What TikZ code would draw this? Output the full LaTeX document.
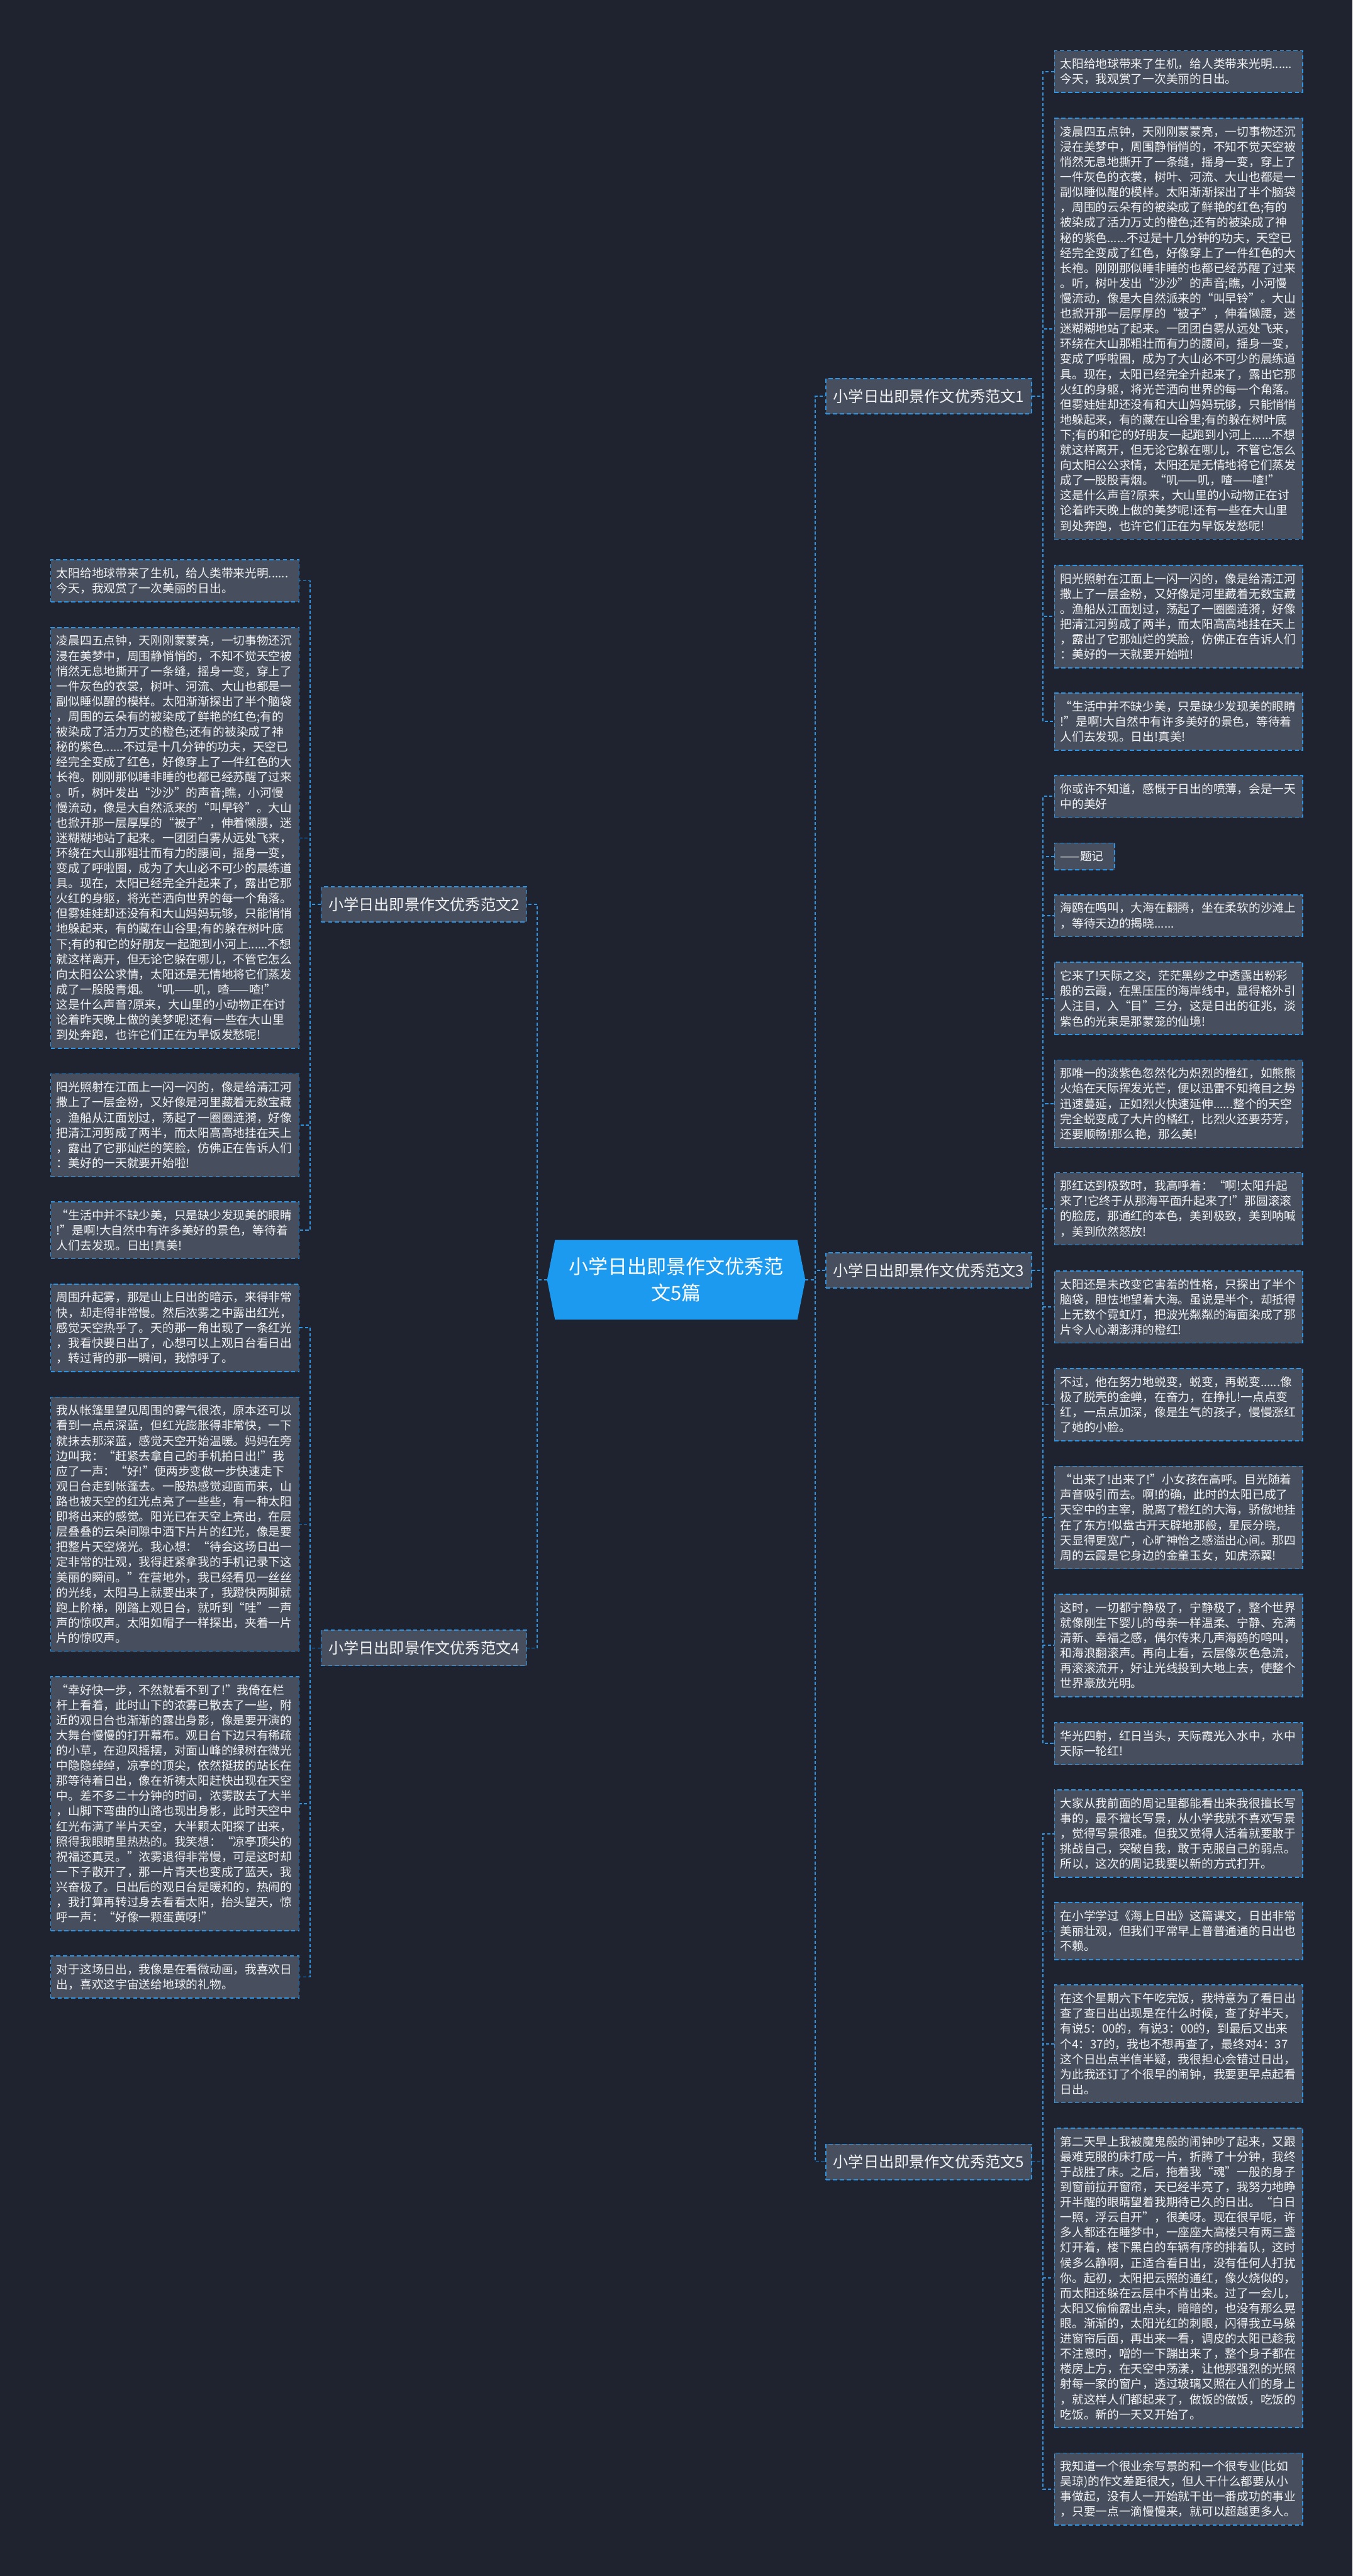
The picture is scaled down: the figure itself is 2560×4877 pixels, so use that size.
\documentclass[tikz,border=0pt]{standalone}
\usepackage{fontspec}
\newfontfamily\cjk{Noto Sans CJK SC}
\usetikzlibrary{calc}
\definecolor{bgc}{HTML}{1F2330}
\definecolor{leafc}{HTML}{474F5F}
\definecolor{linec}{HTML}{2D95E3}
\definecolor{hubc}{HTML}{1B9AF0}
\definecolor{txtc}{HTML}{F2F2F2}
\pgfdeclarelayer{bg}
\pgfsetlayers{bg,main}
\newcommand\sunTa{太阳给地球带来了生机，给人类带来光明......\\今天，我观赏了一次美丽的日出。}
\newcommand\sunTb{凌晨四五点钟，天刚刚蒙蒙亮，一切事物还沉\\
浸在美梦中，周围静悄悄的，不知不觉天空被\\
悄然无息地撕开了一条缝，摇身一变，穿上了\\
一件灰色的衣裳，树叶、河流、大山也都是一\\
副似睡似醒的模样。太阳渐渐探出了半个脑袋\\
，周围的云朵有的被染成了鲜艳的红色;有的\\
被染成了活力万丈的橙色;还有的被染成了神\\
秘的紫色......不过是十几分钟的功夫，天空已\\
经完全变成了红色，好像穿上了一件红色的大\\
长袍。刚刚那似睡非睡的也都已经苏醒了过来\\
。听，树叶发出“沙沙”的声音;瞧，小河慢\\
慢流动，像是大自然派来的“叫早铃”。大山\\
也掀开那一层厚厚的“被子”，伸着懒腰，迷\\
迷糊糊地站了起来。一团团白雾从远处飞来，\\
环绕在大山那粗壮而有力的腰间，摇身一变，\\
变成了呼啦圈，成为了大山必不可少的晨练道\\
具。现在，太阳已经完全升起来了，露出它那\\
火红的身躯，将光芒洒向世界的每一个角落。\\
但雾娃娃却还没有和大山妈妈玩够，只能悄悄\\
地躲起来，有的藏在山谷里;有的躲在树叶底\\
下;有的和它的好朋友一起跑到小河上......不想\\
就这样离开，但无论它躲在哪儿，不管它怎么\\
向太阳公公求情，太阳还是无情地将它们蒸发\\
成了一股股青烟。“叽——叽，喳——喳!”\\
这是什么声音?原来，大山里的小动物正在讨\\
论着昨天晚上做的美梦呢!还有一些在大山里\\
到处奔跑，也许它们正在为早饭发愁呢!}
\newcommand\sunTc{阳光照射在江面上一闪一闪的，像是给清江河\\
撒上了一层金粉，又好像是河里藏着无数宝藏\\
。渔船从江面划过，荡起了一圈圈涟漪，好像\\
把清江河剪成了两半，而太阳高高地挂在天上\\
，露出了它那灿烂的笑脸，仿佛正在告诉人们\\
：美好的一天就要开始啦!}
\newcommand\sunTd{“生活中并不缺少美，只是缺少发现美的眼睛\\
!”是啊!大自然中有许多美好的景色，等待着\\
人们去发现。日出!真美!}
\begin{document}
\begin{tikzpicture}[x=0.5pt,y=-0.5pt,
  conn/.style={draw=linec, line width=1pt, dash pattern=on 3pt off 2pt},
  leaf/.style={draw=linec, line width=1pt, dash pattern=on 4pt off 2.5pt, fill=leafc, text=txtc,
     text width=224pt, inner xsep=5.5pt, inner ysep=0pt, minimum height={#1*14.35pt+11pt},
     align=left, anchor=north west, font=\cjk\fontsize{11.15pt}{14.35pt}\selectfont},
  branchbox/.style={draw=linec, line width=1pt, dash pattern=on 4pt off 2.5pt, fill=leafc, text=txtc,
     inner xsep=6.85pt, inner ysep=0pt, minimum height=33.5pt, font=\cjk\fontsize{14.4pt}{17pt}\selectfont},
  hub/.style={text=white, minimum width=244pt, minimum height=75pt, inner sep=0pt, align=center,
     font=\cjk\fontsize{18.5pt}{25pt}\selectfont}
]
\useasboundingbox (0,0) rectangle (2560,4877);
\begin{pgfonlayer}{bg}
\fill[bgc] (0,0) rectangle (2560,4877);
\end{pgfonlayer}

% hub
\node[hub] (hub) at (1280,2423) {小学日出即景作文优秀范\\文5篇};
\begin{pgfonlayer}{bg}
\fill[hubc] (hub.west) -- ($(hub.north west)+(15,0)$) -- ($(hub.north east)+(-15,0)$) -- (hub.east)
  -- ($(hub.south east)+(-15,0)$) -- ($(hub.south west)+(15,0)$) -- cycle;
\end{pgfonlayer}

% branches
\node[branchbox] (b1) at (1758,750) {小学日出即景作文优秀范文1};
\node[branchbox] (b2) at (802.5,1712) {小学日出即景作文优秀范文2};
\node[branchbox] (b3) at (1758,2405) {小学日出即景作文优秀范文3};
\node[branchbox] (b4) at (802.5,3120) {小学日出即景作文优秀范文4};
\node[branchbox] (b5) at (1758,4093) {小学日出即景作文优秀范文5};

% branch 1 leaves
\node[leaf=2] (r1a) at (1995,95) {\sunTa};
\node[leaf=27] (r1b) at (1995,223) {\sunTb};
\node[leaf=6] (r1c) at (1995,1069) {\sunTc};
\node[leaf=3] (r1d) at (1995,1311) {\sunTd};

% branch 2 leaves
\node[leaf=2] (l2a) at (95,1059) {\sunTa};
\node[leaf=27] (l2b) at (95,1187) {\sunTb};
\node[leaf=6] (l2c) at (95,2032) {\sunTc};
\node[leaf=3] (l2d) at (95,2274) {\sunTd};

% branch 3 leaves
\node[leaf=2] (r3a) at (1995,1467) {你或许不知道，感慨于日出的喷薄，会是一天\\中的美好};
\node[leaf=1, text width=46pt] (r3b) at (1995,1595) {——题记};
\node[leaf=2] (r3c) at (1995,1693) {海鸥在鸣叫，大海在翻腾，坐在柔软的沙滩上\\，等待天边的揭晓......};
\node[leaf=4] (r3d) at (1995,1821) {它来了!天际之交，茫茫黑纱之中透露出粉彩\\
般的云霞，在黑压压的海岸线中，显得格外引\\
人注目，入“目”三分，这是日出的征兆，淡\\
紫色的光束是那蒙笼的仙境!};
\node[leaf=5] (r3e) at (1995,2006) {那唯一的淡紫色忽然化为炽烈的橙红，如熊熊\\
火焰在天际挥发光芒，便以迅雷不知掩目之势\\
迅速蔓延，正如烈火快速延伸......整个的天空\\
完全蜕变成了大片的橘红，比烈火还要芬芳，\\
还要顺畅!那么艳，那么美!};
\node[leaf=4] (r3f) at (1995,2219) {那红达到极致时，我高呼着：“啊!太阳升起\\
来了!它终于从那海平面升起来了!”那圆滚滚\\
的脸庞，那通红的本色，美到极致，美到呐喊\\
，美到欣然怒放!};
\node[leaf=4] (r3g) at (1995,2405) {太阳还是未改变它害羞的性格，只探出了半个\\
脑袋，胆怯地望着大海。虽说是半个，却抵得\\
上无数个霓虹灯，把波光粼粼的海面染成了那\\
片令人心潮澎湃的橙红!};
\node[leaf=4] (r3h) at (1995,2590) {不过，他在努力地蜕变，蜕变，再蜕变......像\\
极了脱壳的金蝉，在奋力，在挣扎!一点点变\\
红，一点点加深，像是生气的孩子，慢慢涨红\\
了她的小脸。};
\node[leaf=6] (r3i) at (1995,2775) {“出来了!出来了!”小女孩在高呼。目光随着\\
声音吸引而去。啊!的确，此时的太阳已成了\\
天空中的主宰，脱离了橙红的大海，骄傲地挂\\
在了东方!似盘古开天辟地那般，星辰分晓，\\
天显得更宽广，心旷神怡之感溢出心间。那四\\
周的云霞是它身边的金童玉女，如虎添翼!};
\node[leaf=6] (r3j) at (1995,3017) {这时，一切都宁静极了，宁静极了，整个世界\\
就像刚生下婴儿的母亲一样温柔、宁静、充满\\
清新、幸福之感，偶尔传来几声海鸥的鸣叫，\\
和海浪翻滚声。再向上看，云层像灰色急流，\\
再滚滚流开，好让光线投到大地上去，使整个\\
世界豪放光明。};
\node[leaf=2] (r3k) at (1995,3260) {华光四射，红日当头，天际霞光入水中，水中\\天际一轮红!};

% branch 4 leaves
\node[leaf=5] (l4a) at (95,2430) {周围升起雾，那是山上日出的暗示，来得非常\\
快，却走得非常慢。然后浓雾之中露出红光，\\
感觉天空热乎了。天的那一角出现了一条红光\\
，我看快要日出了，心想可以上观日台看日出\\
，转过背的那一瞬间，我惊呼了。};
\node[leaf=16] (l4b) at (95,2644) {我从帐篷里望见周围的雾气很浓，原本还可以\\
看到一点点深蓝，但红光膨胀得非常快，一下\\
就抹去那深蓝，感觉天空开始温暖。妈妈在旁\\
边叫我：“赶紧去拿自己的手机拍日出!”我\\
应了一声：“好!”便两步变做一步快速走下\\
观日台走到帐蓬去。一股热感觉迎面而来，山\\
路也被天空的红光点亮了一些些，有一种太阳\\
即将出来的感觉。阳光已在天空上亮出，在层\\
层叠叠的云朵间隙中洒下片片的红光，像是要\\
把整片天空烧光。我心想：“待会这场日出一\\
定非常的壮观，我得赶紧拿我的手机记录下这\\
美丽的瞬间。”在营地外，我已经看见一丝丝\\
的光线，太阳马上就要出来了，我蹬快两脚就\\
跑上阶梯，刚踏上观日台，就听到“哇”一声\\
声的惊叹声。太阳如帽子一样探出，夹着一片\\
片的惊叹声。};
\node[leaf=16] (l4c) at (95,3173) {“幸好快一步，不然就看不到了!”我倚在栏\\
杆上看着，此时山下的浓雾已散去了一些，附\\
近的观日台也渐渐的露出身影，像是要开演的\\
大舞台慢慢的打开幕布。观日台下边只有稀疏\\
的小草，在迎风摇摆，对面山峰的绿树在微光\\
中隐隐绰绰，凉亭的顶尖，依然挺拔的站长在\\
那等待着日出，像在祈祷太阳赶快出现在天空\\
中。差不多二十分钟的时间，浓雾散去了大半\\
，山脚下弯曲的山路也现出身影，此时天空中\\
红光布满了半片天空，大半颗太阳探了出来，\\
照得我眼睛里热热的。我笑想：“凉亭顶尖的\\
祝福还真灵。”浓雾退得非常慢，可是这时却\\
一下子散开了，那一片青天也变成了蓝天，我\\
兴奋极了。日出后的观日台是暖和的，热闹的\\
，我打算再转过身去看看太阳，抬头望天，惊\\
呼一声：“好像一颗蛋黄呀!”};
\node[leaf=2] (l4d) at (95,3702) {对于这场日出，我像是在看微动画，我喜欢日\\出，喜欢这宇宙送给地球的礼物。};

% branch 5 leaves
\node[leaf=5] (r5a) at (1995,3388) {大家从我前面的周记里都能看出来我很擅长写\\
事的，最不擅长写景，从小学我就不喜欢写景\\
，觉得写景很难。但我又觉得人活着就要敢于\\
挑战自己，突破自我，敢于克服自己的弱点。\\
所以，这次的周记我要以新的方式打开。};
\node[leaf=3] (r5b) at (1995,3601) {在小学学过《海上日出》这篇课文，日出非常\\
美丽壮观，但我们平常早上普普通通的日出也\\
不赖。};
\node[leaf=7] (r5c) at (1995,3757) {在这个星期六下午吃完饭，我特意为了看日出\\
查了查日出出现是在什么时候，查了好半天，\\
有说5：00的，有说3：00的，到最后又出来\\
个4：37的，我也不想再查了，最终对4：37\\
这个日出点半信半疑，我很担心会错过日出，\\
为此我还订了个很早的闹钟，我要更早点起看\\
日出。};
\node[leaf=19] (r5d) at (1995,4028) {第二天早上我被魔鬼般的闹钟吵了起来，又跟\\
最难克服的床打成一片，折腾了十分钟，我终\\
于战胜了床。之后，拖着我“魂”一般的身子\\
到窗前拉开窗帘，天已经半亮了，我努力地睁\\
开半醒的眼睛望着我期待已久的日出。“白日\\
一照，浮云自开”，很美呀。现在很早呢，许\\
多人都还在睡梦中，一座座大高楼只有两三盏\\
灯开着，楼下黑白的车辆有序的排着队，这时\\
候多么静啊，正适合看日出，没有任何人打扰\\
你。起初，太阳把云照的通红，像火烧似的，\\
而太阳还躲在云层中不肯出来。过了一会儿，\\
太阳又偷偷露出点头，暗暗的，也没有那么晃\\
眼。渐渐的，太阳光红的刺眼，闪得我立马躲\\
进窗帘后面，再出来一看，调皮的太阳已趁我\\
不注意时，噌的一下蹦出来了，整个身子都在\\
楼房上方，在天空中荡漾，让他那强烈的光照\\
射每一家的窗户，透过玻璃又照在人们的身上\\
，就这样人们都起来了，做饭的做饭，吃饭的\\
吃饭。新的一天又开始了。};
\node[leaf=4] (r5e) at (1995,4643) {我知道一个很业余写景的和一个很专业(比如\\
吴琼)的作文差距很大，但人干什么都要从小\\
事做起，没有人一开始就干出一番成功的事业\\
，只要一点一滴慢慢来，就可以超越更多人。};

% connectors
\foreach \t in {b1,b3,b5}
  \draw[conn] (hub.east) -| ($(hub.east)!.5!(\t.west)$) |- (\t.west);
\foreach \t in {b2,b4}
  \draw[conn] (hub.west) -| ($(hub.west)!.5!(\t.east)$) |- (\t.east);
\foreach \t in {r1a,r1b,r1c,r1d}
  \draw[conn] (b1.east) -| ($(b1.east)!.5!(\t.west)$) |- (\t.west);
\foreach \t in {r3a,r3b,r3c,r3d,r3e,r3f,r3g,r3h,r3i,r3j,r3k}
  \draw[conn] (b3.east) -| ($(b3.east)!.5!(\t.west)$) |- (\t.west);
\foreach \t in {r5a,r5b,r5c,r5d,r5e}
  \draw[conn] (b5.east) -| ($(b5.east)!.5!(\t.west)$) |- (\t.west);
\foreach \t in {l2a,l2b,l2c,l2d}
  \draw[conn] (b2.west) -| ($(b2.west)!.5!(\t.east)$) |- (\t.east);
\foreach \t in {l4a,l4b,l4c,l4d}
  \draw[conn] (b4.west) -| ($(b4.west)!.5!(\t.east)$) |- (\t.east);
\end{tikzpicture}
\end{document}
